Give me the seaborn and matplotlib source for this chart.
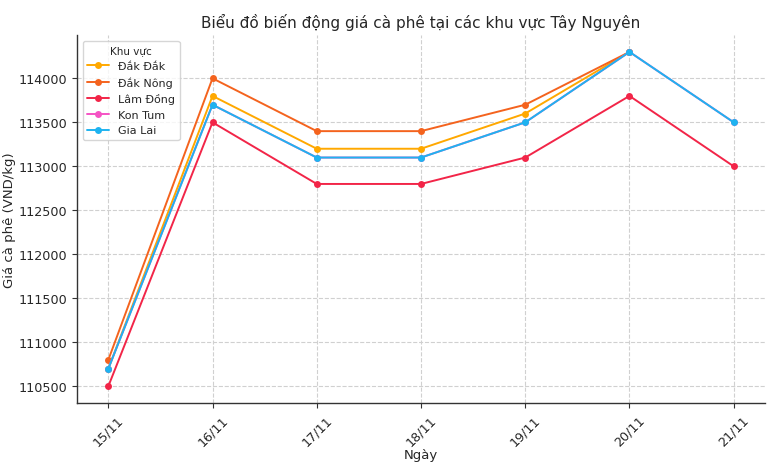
import numpy as np
import pandas as pd
import matplotlib
matplotlib.use("Agg")
import matplotlib.pyplot as plt
import seaborn as sns

dates = ["15/11", "16/11", "17/11", "18/11", "19/11", "20/11", "21/11"]
dak_dak = [110700, 113800, 113200, 113200, 113600, 114300, np.nan]
dak_nong = [110800, 114000, 113400, 113400, 113700, 114300, np.nan]
lam_dong = [110500, 113500, 112800, 112800, 113100, 113800, 113000]
kon_tum = [110700, 113700, 113100, 113100, 113500, 114300, 113500]
gia_lai = [110700, 113700, 113100, 113100, 113500, 114300, 113500]

regions = ["Đắk Đắk", "Đắk Nông", "Lâm Đồng", "Kon Tum", "Gia Lai"]
series = [dak_dak, dak_nong, lam_dong, kon_tum, gia_lai]
colors = ["#ffa800", "#f4631e", "#f22548", "#f553c4", "#1eb3f0"]

rows = []
for r, vals in zip(regions, series):
    for i, (d, v) in enumerate(zip(dates, vals)):
        rows.append({"Ngày": d, "idx": i, "Khu vực": r, "Giá": v})
df = pd.DataFrame(rows)

sns.set_style("white")
plt.rcParams["font.family"] = ["DejaVu Sans"]

fig, ax = plt.subplots(figsize=(7.7, 4.64), dpi=100)
sns.lineplot(data=df, x="idx", y="Giá", hue="Khu vực", hue_order=regions,
             palette=colors, marker="o", markersize=5, markeredgewidth=0,
             linewidth=1.4, ax=ax)

ax.set_xticks(range(len(dates)))
ax.set_xticklabels(dates, rotation=45)
ax.tick_params(axis="both", labelsize=9.2, length=3.5, width=0.8, bottom=True, left=True, color="#333333")
ax.set_title("Biểu đồ biến động giá cà phê tại các khu vực Tây Nguyên", fontsize=11)
ax.set_xlabel("Ngày", fontsize=9.5, labelpad=0)
ax.set_ylabel("Giá cà phê (VND/kg)", fontsize=9.5, labelpad=1.5)
ax.grid(True, linestyle="--", color="#d0d0d0", linewidth=0.8)
for s in ["top", "right"]:
    ax.spines[s].set_visible(False)
for s in ["left", "bottom"]:
    ax.spines[s].set_color("#333333")
    ax.spines[s].set_linewidth(1.0)

leg = ax.legend(title="Khu vực", loc="upper left", fontsize=8, title_fontsize=7.5,
                frameon=True, labelspacing=0.5, borderaxespad=0.5)
leg.get_frame().set_edgecolor("#cccccc")

fig.subplots_adjust(left=0.1, right=0.9935, top=0.922, bottom=0.129)
fig.savefig("out.png", dpi=100)
